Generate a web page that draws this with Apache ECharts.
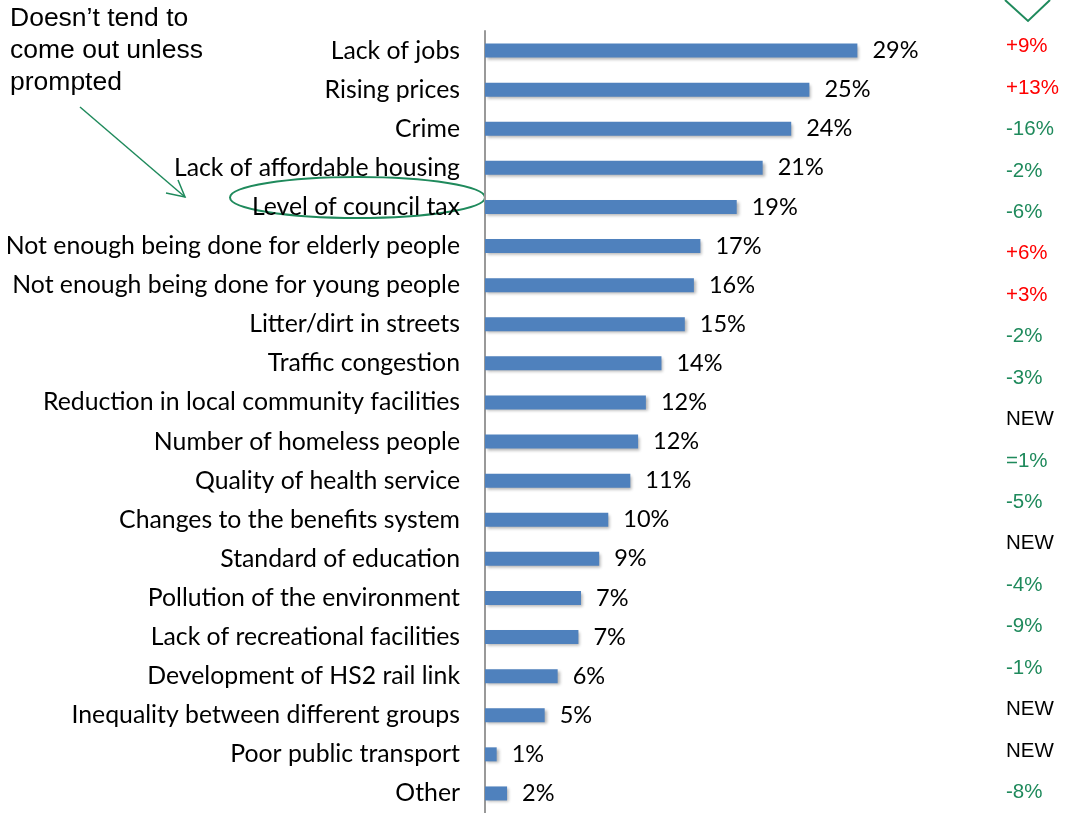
<!DOCTYPE html>
<html>
<head>
<meta charset="utf-8">
<script src="https://cdn.jsdelivr.net/npm/echarts@6/dist/echarts.min.js"></script>
<style>
  html, body { margin: 0; padding: 0; background: #fff; }
  #chart { width: 1067px; height: 813px; }
</style>
</head>
<body>
<div id="chart"></div>
<script>
// problems mentioned, share of respondents (%)
const categories = [
  'Lack of jobs',
  'Rising prices',
  'Crime',
  'Lack of affordable housing',
  'Level of council tax',
  'Not enough being done for elderly people',
  'Not enough being done for young people',
  'Litter/dirt in streets',
  'Traffic congestion',
  'Reduction in local community facilities',
  'Number of homeless people',
  'Quality of health service',
  'Changes to the benefits system',
  'Standard of education',
  'Pollution of the environment',
  'Lack of recreational facilities',
  'Development of HS2 rail link',
  'Inequality between different groups',
  'Poor public transport',
  'Other'
];
const values = [28.7, 25.0, 23.6, 21.4, 19.4, 16.6, 16.1, 15.4, 13.6, 12.4,
                11.8, 11.2, 9.5, 8.8, 7.4, 7.2, 5.6, 4.6, 0.9, 1.7];

// change column on the right
const changes = ['+9%', '+13%', '-16%', '-2%', '-6%', '+6%', '+3%', '-2%', '-3%', 'NEW',
                 '=1%', '-5%', 'NEW', '-4%', '-9%', '-1%', 'NEW', 'NEW', '-8%'];

const note = ['Doesn\u2019t tend to', 'come out unless', 'prompted'];

const GREEN = '#1f8a5c';
const RED = '#ff0000';
const LABEL_FONT = 'Lato';

const chart = echarts.init(document.getElementById('chart'));

function changeStyle(s) {
  if (s === 'NEW') return 'k';
  if (s[0] === '+') return 'r';
  return 'g';
}

chart.setOption({
  animation: false,
  backgroundColor: '#fff',
  grid: [
    { left: 485, top: 31, width: 519, height: 786 },
    { left: 1000, top: 26, width: 2, height: 812 }
  ],
  xAxis: [
    { type: 'value', min: 0, max: 40, show: false, gridIndex: 0 },
    { type: 'value', min: 0, max: 1, show: false, gridIndex: 1 }
  ],
  yAxis: [
    {
      type: 'category',
      data: categories,
      inverse: true,
      gridIndex: 0,
      axisLine: { show: true, lineStyle: { color: '#999', width: 2 } },
      axisTick: { show: false },
      axisLabel: {
        margin: 25,
        color: '#000',
        fontFamily: LABEL_FONT,
        fontSize: 24.8
      }
    },
    {
      type: 'category',
      data: changes,
      inverse: true,
      gridIndex: 1,
      position: 'right',
      axisLine: { show: false },
      axisTick: { show: false },
      axisLabel: {
        margin: 4,
        formatter: (v) => '{' + changeStyle(v) + '|' + v + '}',
        rich: {
          r: { color: RED, fontFamily: 'Liberation Sans', fontSize: 20.5 },
          g: { color: GREEN, fontFamily: 'Liberation Sans', fontSize: 20.5 },
          k: { color: '#000', fontFamily: 'Liberation Sans', fontSize: 20.5 }
        }
      }
    }
  ],
  series: [
    {
      type: 'bar',
      data: values,
      barWidth: 14,
      itemStyle: {
        color: '#4f81bd',
        shadowColor: 'rgba(0,0,0,0.3)',
        shadowBlur: 3,
        shadowOffsetX: 2,
        shadowOffsetY: 2
      },
      label: {
        show: true,
        position: 'right',
        distance: 15,
        color: '#000',
        fontFamily: LABEL_FONT,
        fontSize: 23.5,
        formatter: (p) => Math.round(p.value) + '%'
      }
    }
  ],
  graphic: [
    {
      type: 'text',
      left: 10,
      top: 3,
      style: {
        text: note.join('\n'),
        font: '26.5px "Liberation Sans"',
        lineHeight: 32,
        fill: '#000'
      }
    },
    {
      type: 'polyline',
      shape: { points: [[80, 107], [185, 197]] },
      style: { stroke: GREEN, lineWidth: 1.5, fill: null }
    },
    {
      type: 'polyline',
      shape: { points: [[166, 193], [185, 197], [178, 180]] },
      style: { stroke: GREEN, lineWidth: 1.5, fill: null }
    },
    {
      type: 'ellipse',
      shape: { cx: 357.5, cy: 197.5, rx: 127.5, ry: 20.5 },
      style: { stroke: GREEN, lineWidth: 2, fill: null }
    },
    {
      type: 'polyline',
      shape: { points: [[1005, 0], [1028, 21], [1050, 0]] },
      style: { stroke: GREEN, lineWidth: 2, fill: null }
    }
  ]
});
</script>
</body>
</html>
